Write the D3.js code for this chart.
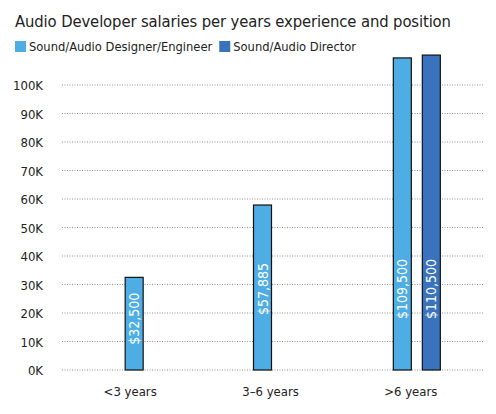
<!DOCTYPE html>
<html><head><meta charset="utf-8">
<script src="https://cdn.jsdelivr.net/npm/d3@7"></script>
<style>body{margin:0;background:#fff;font-family:"DejaVu Sans Condensed","Liberation Sans Narrow",sans-serif;}</style>
</head><body><div id="chart"></div>
<script>
const categories = ["<3 years", "3–6 years", ">6 years"];
const series = ["Sound/Audio Designer/Engineer", "Sound/Audio Director"];
const designer = [32500, 57885, 109500];
const director = [null, null, 110500];
const yTicks = [0, 10000, 20000, 30000, 40000, 50000, 60000, 70000, 80000, 90000, 100000];
const colors = ["#4eaee4", "#3a73bd"];

const width = 496, height = 414;
const svg = d3.select("#chart").append("svg").attr("width", width).attr("height", height);

const x = d3.scaleBand().domain(categories).range([62, 483]);
const y = d3.scaleLinear().domain([0, 100000]).range([370, 85]);
// bars sit a little off the label centres in the original
const barShift = { "<3 years": 2, "3–6 years": -10, ">6 years": 4 };

svg.append("text").attr("x", 15).attr("y", 27)
  .style("font-size", "16.5px").style("font-weight", "500").style("fill", "#222")
  .attr("textLength", 436).text("Audio Developer salaries per years experience and position");

let lx = 15;
series.forEach((s, i) => {
  svg.append("rect").attr("x", lx).attr("y", 41).attr("width", 11).attr("height", 11).attr("fill", colors[i]);
  const t = svg.append("text").attr("x", lx + 14).attr("y", 51).style("font-size", "12.8px").style("fill", "#222").text(s);
  lx += 14 + t.node().getComputedTextLength() + 7;
});

svg.append("g").selectAll("line").data(yTicks).enter().append("line")
  .attr("x1", 62).attr("x2", 483).attr("y1", d => y(d)).attr("y2", d => y(d))
  .attr("stroke", "#777").attr("stroke-width", 0.8).attr("stroke-dasharray", "1,1.5");

svg.append("g").selectAll("text").data(yTicks).enter().append("text")
  .attr("x", 43).attr("y", d => y(d) + 5).attr("text-anchor", "end")
  .style("font-size", "13px").style("fill", "#222").text(d => (d / 1000) + "K");

svg.append("g").selectAll("text").data(categories).enter().append("text")
  .attr("x", d => x(d) + x.bandwidth() / 2 - 2).attr("y", 396).attr("text-anchor", "middle")
  .style("font-size", "13px").style("fill", "#222").text(d => d);

const bw = 18, gap = 11;
const bars = [];
categories.forEach((c, i) => {
  const vals = [designer[i], director[i]].map((v, s) => ({ v, s })).filter(d => d.v != null);
  const total = vals.length * bw + (vals.length - 1) * gap;
  const start = x(c) + x.bandwidth() / 2 - total / 2 + barShift[c];
  vals.forEach((d, j) => bars.push({ c, s: d.s, v: d.v, x0: start + j * (bw + gap) }));
});

svg.append("g").selectAll("rect").data(bars).enter().append("rect")
  .attr("x", d => d.x0).attr("y", d => y(d.v)).attr("width", bw).attr("height", d => y(0) - y(d.v))
  .attr("fill", d => colors[d.s]).attr("stroke", "#111").attr("stroke-width", 1.2);

svg.append("g").selectAll("text").data(bars).enter().append("text")
  .attr("transform", d => {
    const cy = Math.max((y(d.v) + y(0)) / 2 - 5, 289);
    return `translate(${d.x0 + bw / 2 + 5},${cy}) rotate(-90)`;
  })
  .attr("text-anchor", "middle").style("font-size", "14px").style("font-weight", "500").style("fill", "#fff")
  .text(d => "$" + d3.format(",")(d.v));
</script></body></html>
